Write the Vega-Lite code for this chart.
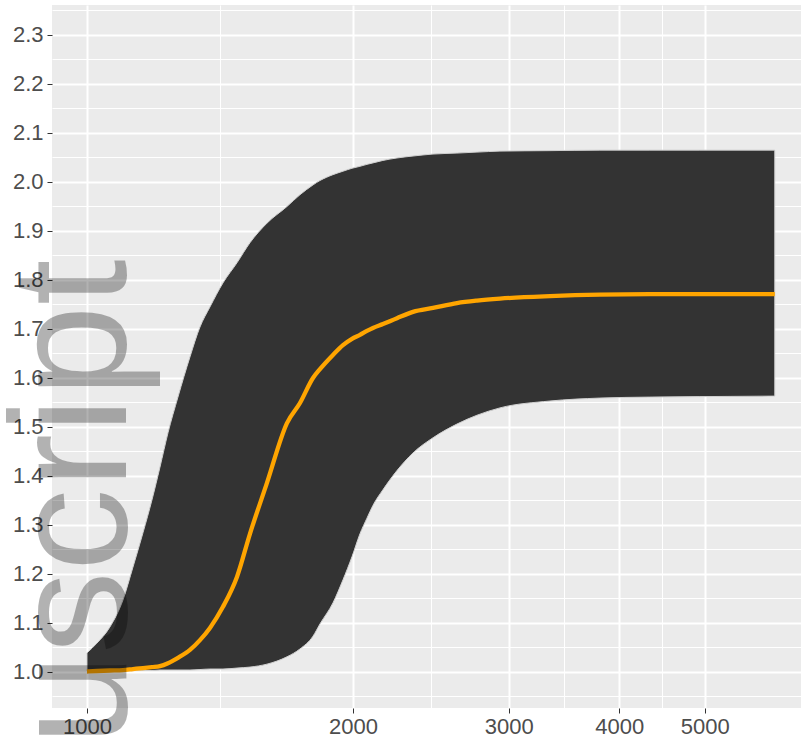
{
  "$schema": "https://vega.github.io/schema/vega-lite/v6.json",
  "width": 749,
  "height": 703,
  "autosize": {"type": "none"},
  "padding": {"left": 52, "top": 5, "right": 0, "bottom": 37},
  "background": "#FFFFFF",
  "config": {"view": {"fill": "#EBEBEB", "stroke": null}, "font": "Liberation Sans"},
  "datasets": {
    "d": [
      {"x": 1000, "hi": 1.039, "lo": 1.002, "mean": 1.001},
      {"x": 1026.4, "hi": 1.059, "lo": 1.002, "mean": 1.002},
      {"x": 1061.7, "hi": 1.092, "lo": 1.002, "mean": 1.003},
      {"x": 1098.2, "hi": 1.147, "lo": 1.002, "mean": 1.004},
      {"x": 1127.2, "hi": 1.214, "lo": 1.003, "mean": 1.006},
      {"x": 1157.0, "hi": 1.284, "lo": 1.003, "mean": 1.008},
      {"x": 1184.4, "hi": 1.351, "lo": 1.003, "mean": 1.010},
      {"x": 1209.4, "hi": 1.418, "lo": 1.004, "mean": 1.012},
      {"x": 1234.9, "hi": 1.488, "lo": 1.004, "mean": 1.018},
      {"x": 1267.4, "hi": 1.561, "lo": 1.004, "mean": 1.029},
      {"x": 1307.7, "hi": 1.643, "lo": 1.004, "mean": 1.045},
      {"x": 1342.2, "hi": 1.704, "lo": 1.005, "mean": 1.065},
      {"x": 1377.6, "hi": 1.745, "lo": 1.006, "mean": 1.090},
      {"x": 1425.1, "hi": 1.794, "lo": 1.006, "mean": 1.133},
      {"x": 1478.0, "hi": 1.835, "lo": 1.008, "mean": 1.194},
      {"x": 1528.9, "hi": 1.876, "lo": 1.010, "mean": 1.282},
      {"x": 1598.2, "hi": 1.916, "lo": 1.016, "mean": 1.386},
      {"x": 1683.7, "hi": 1.950, "lo": 1.031, "mean": 1.508},
      {"x": 1741.7, "hi": 1.974, "lo": 1.047, "mean": 1.549},
      {"x": 1801.7, "hi": 1.994, "lo": 1.073, "mean": 1.600},
      {"x": 1834.8, "hi": 2.003, "lo": 1.098, "mean": 1.618},
      {"x": 1898.0, "hi": 2.015, "lo": 1.141, "mean": 1.647},
      {"x": 1948.1, "hi": 2.022, "lo": 1.188, "mean": 1.667},
      {"x": 1994.3, "hi": 2.028, "lo": 1.235, "mean": 1.680},
      {"x": 2036.3, "hi": 2.032, "lo": 1.282, "mean": 1.688},
      {"x": 2073.8, "hi": 2.036, "lo": 1.314, "mean": 1.696},
      {"x": 2106.4, "hi": 2.039, "lo": 1.340, "mean": 1.702},
      {"x": 2162.0, "hi": 2.044, "lo": 1.372, "mean": 1.710},
      {"x": 2242.3, "hi": 2.049, "lo": 1.411, "mean": 1.722},
      {"x": 2338.0, "hi": 2.053, "lo": 1.447, "mean": 1.735},
      {"x": 2463.1, "hi": 2.057, "lo": 1.478, "mean": 1.743},
      {"x": 2621.9, "hi": 2.059, "lo": 1.506, "mean": 1.753},
      {"x": 2762.2, "hi": 2.061, "lo": 1.524, "mean": 1.758},
      {"x": 2932.7, "hi": 2.063, "lo": 1.539, "mean": 1.762},
      {"x": 3340.2, "hi": 2.064, "lo": 1.553, "mean": 1.767},
      {"x": 3804.2, "hi": 2.065, "lo": 1.559, "mean": 1.770},
      {"x": 4333.5, "hi": 2.065, "lo": 1.561, "mean": 1.771},
      {"x": 4936.1, "hi": 2.065, "lo": 1.562, "mean": 1.771},
      {"x": 6000, "hi": 2.065, "lo": 1.563, "mean": 1.771}
    ]
  },
  "data": {"name": "d"},
  "layer": [
    {
      "mark": {"type": "area", "color": "#333333", "stroke": "#D0D0D0", "strokeWidth": 1, "interpolate": "monotone"},
      "encoding": {
        "x": {
          "field": "x", "type": "quantitative",
          "scale": {"type": "log", "domain": [912.9, 6424], "nice": false, "zero": false},
          "axis": {
            "orient": "bottom",
            "values": [1000, 1414.2, 2000, 2449.5, 3000, 3464.1, 4000, 4472.1, 5000],
            "grid": true, "gridColor": "#FFFFFF",
            "gridWidth": {"condition": {"test": "indexof([1000,2000,3000,4000,5000], datum.value) >= 0", "value": 2}, "value": 1},
            "labels": false, "ticks": false, "domain": false, "title": null, "zindex": 0
          }
        },
        "y": {
          "field": "hi", "type": "quantitative",
          "scale": {"domain": [0.9265, 2.3612], "nice": false, "zero": false},
          "axis": {
            "orient": "left",
            "values": [0.95, 1.0, 1.05, 1.1, 1.15, 1.2, 1.25, 1.3, 1.35, 1.4, 1.45, 1.5, 1.55, 1.6, 1.65, 1.7, 1.75, 1.8, 1.85, 1.9, 1.95, 2.0, 2.05, 2.1, 2.15, 2.2, 2.25, 2.3, 2.35],
            "grid": true, "gridColor": "#FFFFFF",
            "gridWidth": {"condition": {"test": "abs(datum.value*10 - round(datum.value*10)) < 0.001", "value": 2}, "value": 1},
            "labels": false, "ticks": false, "domain": false, "title": null, "zindex": 0
          }
        },
        "y2": {"field": "lo"}
      }
    },
    {
      "mark": {"type": "line", "color": "#FFA500", "strokeWidth": 4.3, "interpolate": "monotone"},
      "encoding": {
        "x": {
          "field": "x", "type": "quantitative",
          "axis": {
            "orient": "bottom", "values": [1000, 2000, 3000, 4000, 5000], "format": "d",
            "grid": false, "domain": false, "ticks": true, "tickColor": "#333333", "tickSize": 5, "tickWidth": 1,
            "labelFontSize": 22, "labelColor": "#4D4D4D", "labelPadding": 3, "labelOverlap": false, "labelFlush": false,
            "title": null, "zindex": 1
          }
        },
        "y": {
          "field": "mean", "type": "quantitative",
          "axis": {
            "orient": "left", "values": [1.0, 1.1, 1.2, 1.3, 1.4, 1.5, 1.6, 1.7, 1.8, 1.9, 2.0, 2.1, 2.2, 2.3], "format": ".1f",
            "grid": false, "domain": false, "tickColor": "#333333", "tickSize": 5, "tickWidth": 1,
            "labelFontSize": 22, "labelColor": "#4D4D4D", "labelPadding": 4, "labelOverlap": false, "labelFlush": false,
            "title": "Manuscript", "titleFontSize": 165, "titleFont": "Liberation Sans", "titleFontWeight": "normal",
            "titleColor": "#000000", "titleOpacity": 0.3, "titleAngle": 270, "titleAlign": "right", "titleBaseline": "alphabetic",
            "titleX": 73, "titleY": 254, "zindex": 1
          }
        }
      }
    }
  ],
  "resolve": {"axis": {"x": "independent", "y": "independent"}}
}
